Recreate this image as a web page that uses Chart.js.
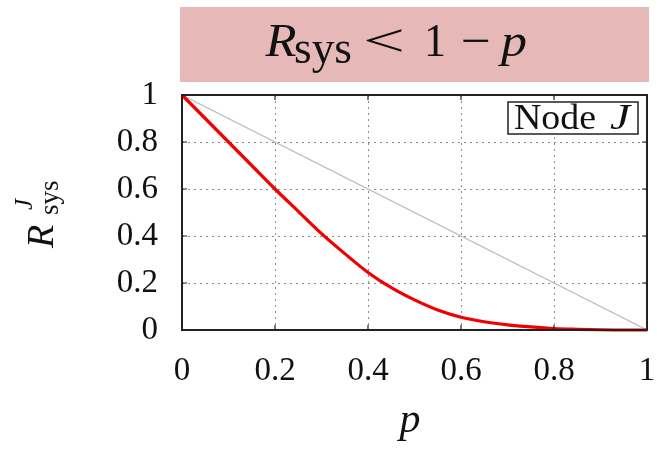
<!DOCTYPE html>
<html>
<head>
<meta charset="utf-8">
<script src="https://cdn.jsdelivr.net/npm/chart.js@4"></script>
<style>
  html, body { margin: 0; padding: 0; background: #fff; }
  #wrap { width: 657px; height: 451px; position: relative; }
</style>
</head>
<body>
<div id="wrap"><canvas id="relChart" width="657" height="451"></canvas></div>
<script>
// failure probability p and reliability of node J
const pValues = [0, 0.05, 0.1, 0.15, 0.2, 0.25, 0.3, 0.35, 0.4, 0.45, 0.5, 0.55, 0.6, 0.65, 0.7, 0.75, 0.8, 0.85, 0.9, 0.95, 1]
const rValues = [1, 0.90, 0.80, 0.70, 0.60, 0.505, 0.41, 0.325, 0.245, 0.18, 0.128, 0.085, 0.054, 0.035, 0.022, 0.013, 0.006, 0.003, 0.001, 0, 0]
// reference line 1 - p
const refX = [0, 1]
const refY = [1, 0]
const tickValues = [0, 0.2, 0.4, 0.6, 0.8, 1]

const serif = '"Liberation Serif", "Times New Roman", serif'

function pts(xs, ys) {
    return xs.map((x, i) => ({ x: x, y: ys[i] }))
}

function tickFmt(v) {
    return tickValues.some(t => Math.abs(t - v) < 1e-9) ? String(+v.toFixed(1)) : ''
}

// draw a piece of text centred on cx, squeezed/stretched to width w
function fitText(c, txt, cx, y, w) {
    const m = c.measureText(txt).width
    c.save()
    c.translate(cx, y)
    c.scale(w / m, 1)
    c.textAlign = 'center'
    c.fillText(txt, 0, 0)
    c.restore()
}

const decorations = {
    id: 'decorations',
    beforeDraw(chart) {
        const c = chart.ctx
        c.save()
        c.fillStyle = '#e6b8b7'
        c.fillRect(180, 7, 469, 75)
        c.fillStyle = '#111'
        c.textBaseline = 'alphabetic'
        c.font = 'italic 46px ' + serif
        fitText(c, 'R', 281, 56, 31)
        c.font = '46px ' + serif
        fitText(c, 'sys', 323, 63, 58)
        fitText(c, '<', 384, 56, 42)
        fitText(c, '1', 435, 56, 22)
        fitText(c, '\u2212', 476, 56, 30)
        c.font = 'italic 46px ' + serif
        fitText(c, 'p', 514, 56, 26)
        c.restore()
    },
    afterDraw(chart) {
        const c = chart.ctx
        const a = chart.chartArea
        const xs = chart.scales.x
        const ys = chart.scales.y
        c.save()
        // inner ticks on all four sides
        c.strokeStyle = '#222'
        c.lineWidth = 1.2
        c.beginPath()
        tickValues.forEach(v => {
            const px = xs.getPixelForValue(v)
            const py = ys.getPixelForValue(v)
            c.moveTo(px, a.bottom); c.lineTo(px, a.bottom - 5)
            c.moveTo(px, a.top); c.lineTo(px, a.top + 5)
            c.moveTo(a.left, py); c.lineTo(a.left + 5, py)
            c.moveTo(a.right, py); c.lineTo(a.right - 5, py)
        })
        c.stroke()
        // frame
        c.lineWidth = 2
        c.strokeStyle = '#222'
        c.strokeRect(a.left, a.top, a.right - a.left, a.bottom - a.top)
        // label box in the corner
        c.fillStyle = '#fff'
        c.fillRect(508, 102, 130, 32)
        c.lineWidth = 1.5
        c.strokeRect(508, 102, 130, 32)
        c.fillStyle = '#111'
        c.textBaseline = 'alphabetic'
        c.font = '35px ' + serif
        fitText(c, 'Node', 555, 129, 82)
        c.font = 'italic 35px ' + serif
        fitText(c, 'J', 620, 129, 20)
        // x axis title
        c.font = 'italic 42px ' + serif
        c.textAlign = 'center'
        c.fillText('p', 410, 432)
        // y axis title, rotated
        c.textAlign = 'left'
        c.translate(53, 248)
        c.rotate(-Math.PI / 2)
        c.font = 'italic 38px ' + serif
        c.fillText('R', 0, 0)
        c.font = 'italic 25px ' + serif
        c.fillText('J', 38, -21)
        c.font = '27px ' + serif
        c.fillText('sys', 33, 5)
        c.restore()
    }
}

const myChart = new Chart(document.getElementById('relChart'), {
    type: 'line',
    data: {
        datasets: [{
            data: pts(pValues, rValues),
            borderColor: '#f00000',
            borderWidth: 3.2,
            pointRadius: 0,
            fill: false,
            cubicInterpolationMode: 'monotone',
            clip: 4,
            order: 0
        }, {
            data: pts(refX, refY),
            borderColor: '#bdbdbd',
            borderWidth: 1.2,
            pointRadius: 0,
            fill: false,
            order: 1
        }]
    },
    options: {
        responsive: false,
        animation: false,
        events: [],
        layout: { padding: { top: 95, right: 10, left: 0, bottom: 0 } },
        plugins: {
            legend: { display: false },
            tooltip: { enabled: false }
        },
        scales: {
            x: {
                type: 'linear',
                min: 0,
                max: 1,
                afterFit: s => { s.height = 121; s.paddingLeft = 0; s.paddingRight = 0 },
                afterBuildTicks: s => { s.ticks = tickValues.map(v => ({ value: v })) },
                grid: { color: '#8a8a8a', lineWidth: 1, drawTicks: false },
                border: { display: false, dash: [2, 4] },
                ticks: { color: '#111', padding: 22, font: { family: serif, size: 33 }, callback: tickFmt, maxRotation: 0 }
            },
            y: {
                type: 'linear',
                min: 0,
                max: 1,
                afterFit: s => { s.width = 182; s.paddingTop = 0; s.paddingBottom = 0 },
                afterBuildTicks: s => { s.ticks = tickValues.map(v => ({ value: v })) },
                grid: { color: '#8a8a8a', lineWidth: 1, drawTicks: false },
                border: { display: false, dash: [2, 4] },
                ticks: { color: '#111', padding: 24, font: { family: serif, size: 33 }, callback: tickFmt }
            }
        }
    },
    plugins: [decorations]
})
</script>
</body>
</html>
